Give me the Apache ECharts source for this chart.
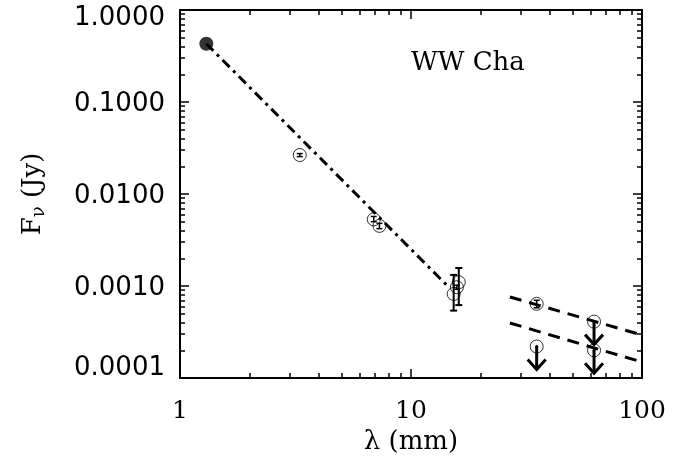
<!DOCTYPE html>
<html>
<head>
<meta charset="utf-8">
<script src="https://cdn.jsdelivr.net/npm/echarts@6/dist/echarts.min.js"></script>
<style>html,body{margin:0;padding:0;background:#fff}#c{width:690px;height:465px}</style>
</head>
<body>
<div id="c"></div>
<script>
// ---- data ----
const xMajorTicks = [1, 10, 100];
const xMinorTicks = [2, 3, 4, 5, 6, 7, 8, 9, 20, 30, 40, 50, 60, 70, 80, 90];
const yMajorTicks = [0.0001, 0.001, 0.01, 0.1, 1];
const yMinorTicks = [0.0002, 0.0003, 0.0004, 0.0005, 0.0006, 0.0007, 0.0008, 0.0009,
                     0.002, 0.003, 0.004, 0.005, 0.006, 0.007, 0.008, 0.009,
                     0.02, 0.03, 0.04, 0.05, 0.06, 0.07, 0.08, 0.09,
                     0.2, 0.3, 0.4, 0.5, 0.6, 0.7, 0.8, 0.9];
const yTickLabels = ['0.0001', '0.0010', '0.0100', '0.1000', '1.0000'];

const filledLam = [1.3];
const filledFlux = [0.43];

const detLam  = [3.3, 6.9, 7.3, 15.3, 15.8, 16.1, 35];
const detFlux = [0.0265, 0.0053, 0.0045, 0.00082, 0.00097, 0.0011, 0.00064];
const detLo   = [0.0255, 0.0050, 0.0042, 0.00054, 0.00092, 0.00062, 0.00058];
const detHi   = [0.0275, 0.0057, 0.0048, 0.00132, 0.00102, 0.00157, 0.00070];

const ulLam  = [35, 62, 62];
const ulFlux = [0.00022, 0.00041, 0.00020];

const fitLam  = [1.3, 14.7];
const fitFlux = [0.43, 0.00095];

const bandLam  = [26.8, 100];
const bandHigh = [0.00076, 0.000293];
const bandLow  = [0.000396, 0.000149];

// ---- chart ----
const chart = echarts.init(document.getElementById('c'), null, {renderer: 'canvas'});
const BLK = '#000';
const serif = 'DejaVu Serif';
const sans = 'DejaVu Sans';
const common = {type: 'log', logBase: 10, splitLine: {show: false}, minorTick: {show: false}, minorSplitLine: {show: false}};

function xa(pos, ticks, len, showLine, labels) {
  return Object.assign({}, common, {
    min: 1, max: 100, position: pos, offset: 0,
    axisLine: {show: showLine, onZero: false, lineStyle: {color: BLK, width: 2}},
    axisTick: {show: true, inside: true, length: len, customValues: ticks, lineStyle: {color: BLK, width: 1.5}},
    axisLabel: labels ? {show: true, customValues: xMajorTicks, margin: 21, color: BLK, fontFamily: serif, fontSize: 25,
      formatter: v => String(Math.round(v))} : {show: false}
  });
}
function ya(pos, ticks, len, showLine, labels) {
  const lab = {fontFamily: sans, fontSize: 26, fontWeight: 'normal', color: BLK};
  return Object.assign({}, common, {
    min: 0.0001, max: 1, position: pos, offset: 0,
    axisLine: {show: showLine, onZero: false, lineStyle: {color: BLK, width: 2}},
    axisTick: {show: true, inside: true, length: len, customValues: ticks, lineStyle: {color: BLK, width: 1.5}},
    axisLabel: labels ? Object.assign({show: true, customValues: yMajorTicks, margin: 15,
      formatter: v => {
        const i = yMajorTicks.findIndex(t => Math.abs(Math.log10(t) - Math.log10(v)) < 1e-6);
        const s = i >= 0 ? yTickLabels[i] : v.toFixed(4);
        if (v > 0.5) return '{t|' + s + '}';
        if (v < 0.0002) return '{b|' + s + '}';
        return '{m|' + s + '}';
      },
      rich: {
        t: Object.assign({padding: [16, 0, 0, 0]}, lab),
        b: Object.assign({padding: [0, 0, 20, 0]}, lab),
        m: Object.assign({padding: [5, 0, 0, 0]}, lab)
      }
    }, lab) : {show: false}
  });
}

const xAxes = [
  Object.assign(xa('bottom', xMajorTicks, 9, true, true), {
    name: 'λ (mm)', nameLocation: 'middle', nameGap: 46,
    nameTextStyle: {fontFamily: serif, fontSize: 26, color: BLK}
  }),
  xa('bottom', xMinorTicks, 5, false, false),
  xa('top', xMajorTicks, 9, true, false),
  xa('top', xMinorTicks, 5, false, false)
];
const yAxes = [
  Object.assign(ya('left', yMajorTicks, 9, true, true), {
    name: '{a|F}{s|ν}{a| (Jy)}', nameLocation: 'middle', nameGap: 132, nameRotate: 90,
    nameTextStyle: {fontFamily: serif, fontSize: 26, color: BLK,
      rich: {a: {fontFamily: serif, fontSize: 26, color: BLK},
             s: {fontFamily: serif, fontSize: 18, color: BLK, padding: [12, 0, 0, 0]}}}
  }),
  ya('left', yMinorTicks, 5, false, false),
  ya('right', yMajorTicks, 9, true, false),
  ya('right', yMinorTicks, 5, false, false)
];

const errData = detLam.map((x, i) => [x, detLo[i], detHi[i]]);
const ulData = ulLam.map((x, i) => [x, ulFlux[i]]);

chart.setOption({
  animation: false,
  backgroundColor: '#fff',
  title: {text: 'WW Cha', left: 411, top: 50, padding: 0,
    textStyle: {fontFamily: serif, fontSize: 26, fontWeight: 'normal', color: BLK}},
  grid: {left: 180, right: 48, top: 10, bottom: 87, containLabel: false},
  xAxis: xAxes,
  yAxis: yAxes,
  series: [
    {
      type: 'line', xAxisIndex: 0, yAxisIndex: 0, symbol: 'none', silent: true,
      data: fitLam.map((x, i) => [x, fitFlux[i]]),
      lineStyle: {color: BLK, width: 3, type: [10, 5, 3, 5]}
    },
    {
      type: 'line', xAxisIndex: 0, yAxisIndex: 0, symbol: 'none', silent: true,
      data: bandLam.map((x, i) => [x, bandHigh[i]]),
      lineStyle: {color: BLK, width: 3, type: [12, 8]}
    },
    {
      type: 'line', xAxisIndex: 0, yAxisIndex: 0, symbol: 'none', silent: true,
      data: bandLam.map((x, i) => [x, bandLow[i]]),
      lineStyle: {color: BLK, width: 3, type: [12, 8]}
    },
    {
      type: 'custom', xAxisIndex: 0, yAxisIndex: 0, silent: true,
      data: errData,
      renderItem: function (params, api) {
        const x = api.value(0);
        const lo = api.coord([x, api.value(1)]);
        const hi = api.coord([x, api.value(2)]);
        const big = Math.abs(lo[1] - hi[1]) > 12;
        const w = big ? 3.5 : 3;
        const lw = big ? 2 : 1.5;
        const st = {stroke: BLK, lineWidth: lw};
        return {type: 'group', children: [
          {type: 'line', shape: {x1: lo[0], y1: lo[1], x2: hi[0], y2: hi[1]}, style: st},
          {type: 'line', shape: {x1: lo[0] - w, y1: lo[1], x2: lo[0] + w, y2: lo[1]}, style: st},
          {type: 'line', shape: {x1: hi[0] - w, y1: hi[1], x2: hi[0] + w, y2: hi[1]}, style: st}
        ]};
      }
    },
    {
      type: 'custom', xAxisIndex: 0, yAxisIndex: 0, silent: true,
      data: ulData,
      renderItem: function (params, api) {
        const p = api.coord([api.value(0), api.value(1)]);
        const tip = p[1] + 23;
        const st = {stroke: BLK, lineWidth: 3, fill: null};
        return {type: 'group', children: [
          {type: 'circle', shape: {cx: p[0], cy: p[1], r: 1.5}, style: {fill: BLK}},
          {type: 'line', shape: {x1: p[0], y1: p[1], x2: p[0], y2: tip}, style: st},
          {type: 'polyline', shape: {points: [[p[0] - 9, tip - 10], [p[0], tip], [p[0] + 9, tip - 10]]}, style: st}
        ]};
      }
    },
    {
      type: 'scatter', xAxisIndex: 0, yAxisIndex: 0, silent: true,
      data: detLam.map((x, i) => [x, detFlux[i]]).concat(ulData),
      symbol: 'circle', symbolSize: 13,
      itemStyle: {color: 'rgba(0,0,0,0)', borderColor: BLK, borderWidth: 1}
    },
    {
      type: 'scatter', xAxisIndex: 0, yAxisIndex: 0, silent: true,
      data: filledLam.map((x, i) => [x, filledFlux[i]]),
      symbol: 'circle', symbolSize: 14,
      itemStyle: {color: BLK}
    }
  ]
});
</script>
</body>
</html>
